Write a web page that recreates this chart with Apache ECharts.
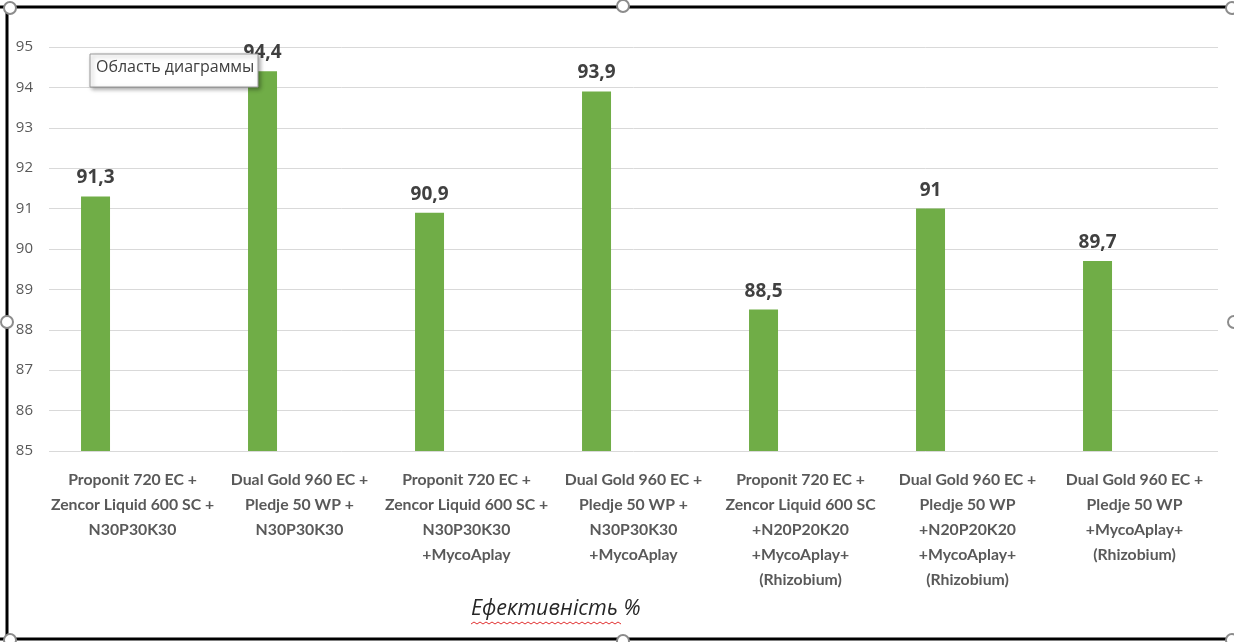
<!DOCTYPE html>
<html>
<head>
<meta charset="utf-8">
<script src="https://cdn.jsdelivr.net/npm/echarts@6/dist/echarts.min.js"></script>
<style>
html,body{margin:0;padding:0;background:#fff;}
#chart{width:1234px;height:642px;}
</style>
</head>
<body>
<div id="chart"></div>
<script>
var categories = [
  "Proponit 720 EC +\nZencor Liquid 600 SC +\nN30P30K30",
  "Dual Gold 960 EC +\nPledje 50 WP +\nN30P30K30",
  "Proponit 720 EC +\nZencor Liquid 600 SC +\nN30P30K30\n+MycoAplay",
  "Dual Gold 960 EC +\nPledje 50 WP +\nN30P30K30\n+MycoAplay",
  "Proponit 720 EC +\nZencor Liquid 600 SC\n+N20P20K20\n+MycoAplay+\n(Rhizobium)",
  "Dual Gold 960 EC +\nPledje 50 WP\n+N20P20K20\n+MycoAplay+\n(Rhizobium)",
  "Dual Gold 960 EC +\nPledje 50 WP\n+MycoAplay+\n(Rhizobium)"
];
var efficiency = [91.3, 94.4, 90.9, 93.9, 88.5, 91.0, 89.7];
var emptySeries = [null, null, null, null, null, null, null];
var axisTitle = "Ефективність %";
var tooltipText = "Область диаграммы";

var chart = echarts.init(document.getElementById('chart'), null, {renderer: 'canvas'});

// wavy spell-check underline
var wave = [];
for (var i = 0; i <= 50; i++) { wave.push([471 + i * 3, 624 + (i % 2 === 0 ? 0 : -2)]); }

var handleStyle = {fill: '#fff', stroke: '#8c8c8c', lineWidth: 2};

chart.setOption({
  animation: false,
  grid: {left: 49, right: 16, top: 47, bottom: 191, containLabel: false},
  xAxis: {
    type: 'category',
    data: categories,
    axisLine: {show: false},
    axisTick: {show: false},
    axisLabel: {
      interval: 0,
      margin: 16,
      color: '#595959',
      fontFamily: 'Lato',
      fontWeight: 'bold',
      fontSize: 15.8,
      lineHeight: 25
    }
  },
  yAxis: {
    type: 'value',
    min: 85, max: 95, interval: 1,
    axisLine: {show: false},
    axisTick: {show: false},
    axisLabel: {color: '#595959', fontFamily: 'Open Sans', fontSize: 15, margin: 16},
    splitLine: {lineStyle: {color: '#d9d9d9', width: 1}}
  },
  series: [
    {
      type: 'bar',
      data: efficiency,
      barWidth: 29,
      barGap: '155%',
      itemStyle: {color: '#70ad47'},
      label: {
        show: true,
        position: 'top',
        distance: 9,
        color: '#404040',
        fontFamily: 'Open Sans',
        fontWeight: 'bold',
        fontSize: 19,
        formatter: function (p) { return String(p.value).replace('.', ','); }
      }
    },
    {
      type: 'bar',
      data: emptySeries,
      barWidth: 29,
      itemStyle: {color: 'transparent'}
    }
  ],
  graphic: [
    {type: 'line', shape: {x1: 0, y1: 7, x2: 1234, y2: 7}, style: {stroke: '#000', lineWidth: 3}, z: 10},
    {type: 'line', shape: {x1: 7, y1: 6, x2: 7, y2: 640}, style: {stroke: '#000', lineWidth: 3}, z: 10},
    {type: 'line', shape: {x1: 0, y1: 639, x2: 1234, y2: 639}, style: {stroke: '#000', lineWidth: 3}, z: 10},
    {type: 'circle', shape: {cx: 10, cy: 8, r: 6}, style: handleStyle, z: 11},
    {type: 'circle', shape: {cx: 623, cy: 6, r: 6}, style: handleStyle, z: 11},
    {type: 'circle', shape: {cx: 1232, cy: 8, r: 6}, style: handleStyle, z: 11},
    {type: 'circle', shape: {cx: 7, cy: 322, r: 6}, style: handleStyle, z: 11},
    {type: 'circle', shape: {cx: 1234, cy: 322, r: 6}, style: handleStyle, z: 11},
    {type: 'circle', shape: {cx: 10, cy: 640, r: 6}, style: handleStyle, z: 11},
    {type: 'circle', shape: {cx: 623, cy: 641, r: 6}, style: handleStyle, z: 11},
    {type: 'circle', shape: {cx: 1232, cy: 640, r: 6}, style: handleStyle, z: 11},
    {
      type: 'text', left: 471, top: 598,
      style: {text: axisTitle, fill: '#262626', fontFamily: 'Open Sans', fontStyle: 'italic', fontSize: 21.5}
    },
    {type: 'polyline', shape: {points: wave}, style: {stroke: '#e03030', lineWidth: 1, fill: null}},
    {
      type: 'rect', shape: {x: 90, y: 54, width: 168, height: 33},
      style: {fill: '#fff', stroke: '#9a9a9a', lineWidth: 1, shadowBlur: 4, shadowOffsetX: 2, shadowOffsetY: 2, shadowColor: 'rgba(0,0,0,0.35)'}, z: 20
    },
    {
      type: 'text', left: 96, top: 59,
      style: {text: tooltipText, fill: '#404040', fontFamily: 'Open Sans', fontSize: 16}, z: 21
    }
  ]
});
</script>
</body>
</html>
